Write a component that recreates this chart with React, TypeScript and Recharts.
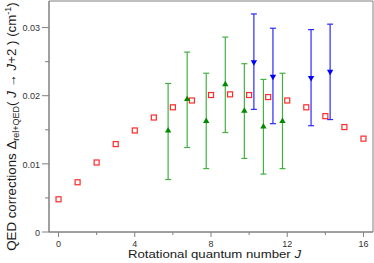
import React from 'react';
import { ScatterChart, Scatter, XAxis, YAxis, ErrorBar, ReferenceArea, Label } from 'recharts';

// Rotational quantum number J and QED corrections (cm^-1)
const rotJ = [0, 1, 2, 3, 4, 5, 6, 7, 8, 9, 10, 11, 12, 13, 14, 15, 16];
const calcValues = [0.0048, 0.0073, 0.0102, 0.0129, 0.0149, 0.0168, 0.0183, 0.0193, 0.0201, 0.0202, 0.0201, 0.0198, 0.0193, 0.0183, 0.0170, 0.0154, 0.0137];

const greenJ = [5.75, 6.75, 7.75, 8.75, 9.75, 10.75, 11.75];
const greenValues = [0.0149, 0.0195, 0.0163, 0.0217, 0.0178, 0.0155, 0.0163];
const greenHigh = [0.0218, 0.0264, 0.0233, 0.0286, 0.0247, 0.0224, 0.0233];
const greenLow = [0.0077, 0.0124, 0.0093, 0.0146, 0.0108, 0.0085, 0.0093];

const blueJ = [10.25, 11.25, 13.25, 14.25];
const blueValues = [0.0249, 0.0228, 0.0226, 0.0235];
const blueHigh = [0.0320, 0.0299, 0.0297, 0.0305];
const blueLow = [0.0180, 0.0159, 0.0156, 0.0165];

const xTicks = [0, 2, 4, 6, 8, 10, 12, 14, 16];
const xMajorTicks = [0, 4, 8, 12, 16];
const xTickLabels = ['0', '4', '8', '12', '16'];
const yTicks = [0, 0.005, 0.01, 0.015, 0.02, 0.025, 0.03];
const yMajorTicks = [0, 0.01, 0.02, 0.03];
const yTickLabels = ['0', '0.01', '0.02', '0.03'];

const xDomain = [-0.5, 16.5];
const yDomain = [0, 0.0339];

const FONT = '"Liberation Sans", Arial, Helvetica, sans-serif';
const AXIS = '#808080';
const TICK_TEXT = '#333333';

const calcData = rotJ.map((x, i) => ({ x, y: calcValues[i] }));
const greenData = greenJ.map((x, i) => ({ x, y: greenValues[i], err: [greenValues[i] - greenLow[i], greenHigh[i] - greenValues[i]] }));
const blueData = blueJ.map((x, i) => ({ x, y: blueValues[i], err: [blueValues[i] - blueLow[i], blueHigh[i] - blueValues[i]] }));

const findIdx = (arr: number[], v: number) => arr.findIndex((a) => Math.abs(a - v) < 1e-9);

const XTick = (props: any) => {
  const { x, y, payload } = props;
  const idx = findIdx(xMajorTicks, payload.value);
  const axisY = y - 8;
  return (
    <g>
      <line x1={x} x2={x} y1={axisY} y2={axisY + (idx >= 0 ? 5 : 3)} stroke={AXIS} strokeWidth={1} />
      {idx >= 0 && (
        <text x={x} y={axisY + 15} textAnchor="middle" fontSize={9} fontFamily={FONT} fill={TICK_TEXT}>
          {xTickLabels[idx]}
        </text>
      )}
    </g>
  );
};

const YTick = (props: any) => {
  const { x, y, payload } = props;
  const idx = findIdx(yMajorTicks, payload.value);
  const axisX = x + 9;
  return (
    <g>
      <line x1={axisX - (idx >= 0 ? 7 : 4)} x2={axisX} y1={y} y2={y} stroke={AXIS} strokeWidth={1} />
      {idx >= 0 && (
        <text x={x} y={y} dy="0.42em" textAnchor="end" fontSize={9} fontFamily={FONT} fill={TICK_TEXT}>
          {yTickLabels[idx]}
        </text>
      )}
    </g>
  );
};

const OpenSquare = (props: any) => {
  const { cx, cy } = props;
  if (cx == null || cy == null) return null;
  return <rect x={cx - 2.5} y={cy - 2.5} width={5} height={5} fill="none" stroke="#ff2a2a" strokeWidth={1.2} />;
};

const UpTriangle = (props: any) => {
  const { cx, cy } = props;
  if (cx == null || cy == null) return null;
  return <path d={`M${cx},${cy - 3.5}L${cx + 3.2},${cy + 2}L${cx - 3.2},${cy + 2}Z`} fill="#008a00" />;
};

const DownTriangle = (props: any) => {
  const { cx, cy } = props;
  if (cx == null || cy == null) return null;
  return <path d={`M${cx},${cy + 3.5}L${cx + 3.2},${cy - 2}L${cx - 3.2},${cy - 2}Z`} fill="#0000ff" />;
};

const XAxisTitle = () => (
  <text x={214.5} y={258} textAnchor="middle" fontSize={11.5} textLength={173} lengthAdjust="spacingAndGlyphs" fontFamily={FONT} fill="#1a1a1a">
    Rotational quantum number <tspan fontStyle="italic">J</tspan>
  </text>
);

const YAxisTitle = () => (
  <text transform="rotate(-90)" x={-126.5} y={15.5} textAnchor="middle" fontSize={13.3} fontFamily={FONT} fill="#1a1a1a">
    QED corrections Δ
    <tspan fontSize={9} dy={3}>rel+QED</tspan>
    <tspan dy={-3}>( </tspan>
    <tspan fontStyle="italic">J</tspan>
    <tspan> → </tspan>
    <tspan fontStyle="italic">J</tspan>
    <tspan>+2 ) (cm</tspan>
    <tspan fontSize={9} dy={-5}>-1</tspan>
    <tspan dy={5}>)</tspan>
  </text>
);

export default function App() {
  return (
    <div style={{ position: 'absolute', left: 0, top: 0, width: 374, height: 263, background: '#fff' }}>
      <ScatterChart width={374} height={263} margin={{ top: 1, right: 1, bottom: 0, left: 0 }}>
        <XAxis
          type="number"
          dataKey="x"
          domain={xDomain}
          ticks={xTicks}
          allowDataOverflow
          height={31}
          stroke={AXIS}
          tickLine={{ stroke: 'none' }}
          tickSize={5}
          tickMargin={3}
          tick={<XTick />}
          interval={0}
        >
          <Label content={<XAxisTitle />} />
        </XAxis>
        <YAxis
          type="number"
          dataKey="y"
          domain={yDomain}
          ticks={yTicks}
          allowDataOverflow
          width={49}
          stroke={AXIS}
          tickLine={{ stroke: 'none' }}
          tickSize={7}
          tickMargin={2}
          tick={<YTick />}
          interval={0}
        >
          <Label content={<YAxisTitle />} />
        </YAxis>
        <ReferenceArea x1={xDomain[0]} x2={xDomain[1]} y1={yDomain[0]} y2={yDomain[1]} fill="none" stroke={AXIS} strokeWidth={1} ifOverflow="visible" />
        <Scatter data={calcData} dataKey="y" shape={<OpenSquare />} isAnimationActive={false} />
        <Scatter data={greenData} dataKey="y" shape={<UpTriangle />} isAnimationActive={false}>
          <ErrorBar dataKey="err" direction="y" width={3} stroke="#44b044" strokeWidth={1.2} />
        </Scatter>
        <Scatter data={blueData} dataKey="y" shape={<DownTriangle />} isAnimationActive={false}>
          <ErrorBar dataKey="err" direction="y" width={3} stroke="#2a2aff" strokeWidth={1.2} />
        </Scatter>
      </ScatterChart>
    </div>
  );
}
